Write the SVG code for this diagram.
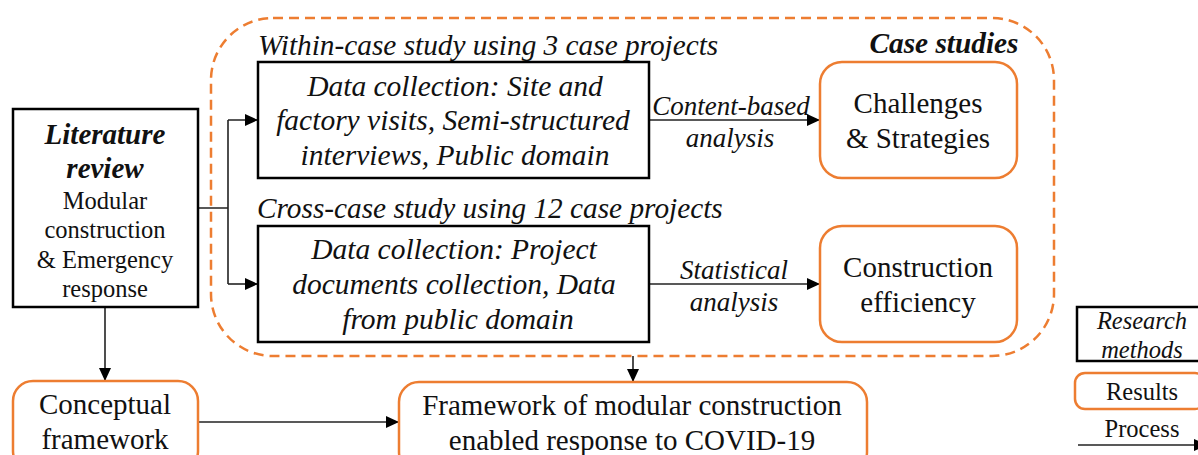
<svg xmlns="http://www.w3.org/2000/svg" width="1198" height="455" viewBox="0 0 1198 455">
<style>
text{font-family:"Liberation Serif","Times New Roman",serif;fill:#111;text-anchor:middle}
.m{font-size:29.5px}.n{font-size:29px}.s{font-size:24.5px}.t{font-size:27px}.h{font-size:29.3px}.e{font-size:24.5px}
.i{font-style:italic}.l{text-anchor:start}.w{font-weight:bold}
.k{fill:#fff;stroke:#000;stroke-width:2.5}
.o{fill:#fff;stroke:#ED7D31;stroke-width:2.5}
.c{fill:none;stroke:#222;stroke-width:1.6}
</style>
<defs><marker id="a" markerUnits="userSpaceOnUse" markerWidth="14" markerHeight="14" refX="13" refY="7" orient="auto"><path d="M0 1L13 7L0 13z" fill="#000"/></marker></defs>
<rect width="1198" height="455" fill="#fff"/>
<rect x="211" y="18" width="843" height="338" rx="62" fill="none" stroke="#ED7D31" stroke-width="2.5" stroke-dasharray="10 6"/>
<g id="connectors">
<path class="c" d="M198 208H228M228 120V284M228 120H258" marker-end="url(#a)"/>
<path class="c" d="M228 284H258" marker-end="url(#a)"/>
<path class="c" d="M649 120H820" marker-end="url(#a)"/>
<path class="c" d="M649 284H820" marker-end="url(#a)"/>
<path class="c" d="M105 307V381" marker-end="url(#a)"/>
<path class="c" d="M198 422H399" marker-end="url(#a)"/>
<path class="c" d="M633 356V382" marker-end="url(#a)"/>
<path class="c" d="M1078 445H1207" marker-end="url(#a)"/>
</g>
<text class="h i l" x="258" y="55">Within-case study using 3 case projects</text>
<text class="h i w" x="944" y="53">Case studies</text>
<text class="h i l" x="257" y="218">Cross-case study using 12 case projects</text>
<g id="lit"><rect class="k" x="13" y="109" width="185" height="198"/>
<text class="n i w" x="105" y="144">Literature</text><text class="n i w" x="105" y="178">review</text>
<text class="s" x="105" y="209">Modular</text><text class="s" x="105" y="238">construction</text><text class="s" x="105" y="268">&amp; Emergency</text><text class="s" x="105" y="297">response</text></g>
<g id="within"><rect class="k" x="258" y="62" width="391" height="116"/>
<text class="m i" x="455" y="96">Data collection: Site and</text><text class="m i" x="453" y="130">factory visits, Semi-structured</text><text class="m i" x="455" y="165">interviews, Public domain</text></g>
<g id="cross"><rect class="k" x="258" y="226" width="391" height="116"/>
<text class="m i" x="454" y="259">Data collection: Project</text><text class="m i" x="454" y="294">documents collection, Data</text><text class="m i" x="458" y="329">from public domain</text></g>
<text class="t i" x="731" y="115">Content-based</text><text class="t i" x="730" y="147">analysis</text>
<text class="t i" x="734" y="279">Statistical</text><text class="t i" x="734" y="311">analysis</text>
<g id="chal"><rect class="o" x="820" y="62" width="197" height="116" rx="22"/>
<text class="n" x="918" y="113">Challenges</text><text class="n" x="918" y="148">&amp; Strategies</text></g>
<g id="eff"><rect class="o" x="820" y="226" width="197" height="116" rx="22"/>
<text class="n" x="918" y="277">Construction</text><text class="n" x="918" y="312">efficiency</text></g>
<g id="concept"><rect class="o" x="13" y="381" width="185" height="90" rx="20"/>
<text class="n" x="105" y="414">Conceptual</text><text class="n" x="105" y="449">framework</text></g>
<g id="framework"><rect class="o" x="399" y="382" width="468" height="90" rx="20"/>
<text class="n" x="632" y="415">Framework of modular construction</text><text class="n" x="632" y="450">enabled response to COVID-19</text></g>
<g id="legend1"><rect class="k" x="1077" y="307" width="125" height="54"/>
<text class="e i" x="1142" y="329">Research</text><text class="e i" x="1142" y="358">methods</text></g>
<g id="legend2"><rect class="o" x="1075" y="373" width="130" height="36" rx="10"/>
<text class="e" x="1142" y="400">Results</text></g>
<text class="e" x="1142" y="437">Process</text>
</svg>
